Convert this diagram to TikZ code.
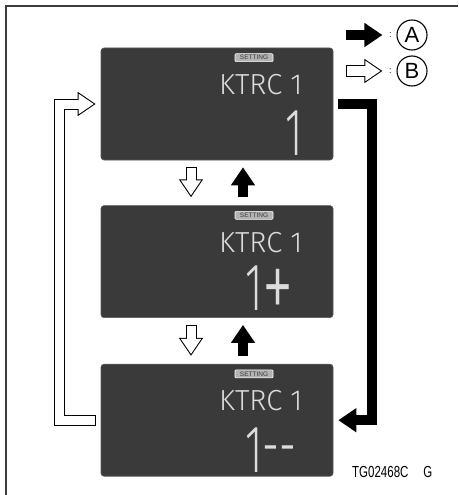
\documentclass[tikz,border=0pt]{standalone}
\usepackage{fontspec}
\setmainfont{Liberation Sans}
\newfontfamily\lcdfont{Fira Sans Light}
\usetikzlibrary{arrows.meta}
\usetikzlibrary{positioning}
\definecolor{lcdpanel}{HTML}{3A3A3A}
\definecolor{lcdseg}{HTML}{DCDCDC}
\definecolor{framegrey}{HTML}{3C3C3C}

\begin{document}
\begin{tikzpicture}[
  x=1pt, y=-1pt,
  panel/.style={rectangle, draw=lcdpanel!85!white, fill=lcdpanel, line width=0.6pt,
    minimum width=232pt, minimum height=112pt, rounded corners=3pt, inner sep=0pt},
  badge/.style={rectangle, draw=white, fill=lcdseg!75!lcdpanel, text=lcdpanel,
    line width=0.6pt, minimum width=38pt, minimum height=8pt, inner sep=0pt,
    rounded corners=1pt, font=\fontsize{6.5}{6.5}\selectfont},
  modetext/.style={text=lcdseg, font=\lcdfont\fontsize{29}{29}\selectfont,
    anchor=base west, inner sep=0pt},
  digits/.style={text=lcdseg, font=\lcdfont\fontsize{42}{42}\selectfont,
    yscale=1.6, anchor=base west, inner sep=0pt},
  key/.style={circle, draw, line width=1.1pt, minimum size=30pt, inner sep=0pt,
    font=\fontsize{22}{22}\selectfont},
  solid/.style={line width=10pt, line join=miter, draw=black,
    -{Triangle[length=18pt,width=23pt]}},
  hollow/.style={line width=11pt, line join=miter, draw=black,
    -{Triangle[length=18pt,width=23pt]}},
  hollowfill/.style={line width=9pt, line join=miter, draw=white,
    shorten <=1pt, shorten >=1.9pt, -{Triangle[length=15.1pt,width=19.3pt]}},
  frame/.style={draw=framegrey, line width=1.3pt},
]
\useasboundingbox (0,0) rectangle (458,495);

% outer frame
\draw[frame] (6,495) -- (6,6) -- (458,6);

% === LCD panels ===
\node[panel] (top) at (217,104) {};
\node[panel, below=45pt of top] (mid) {};
\node[panel, below=46pt of mid] (bot) {};

\node[badge] (set1) at ([xshift=37pt,yshift=-10pt]top.north) {SETTING};
\node[modetext] (mode1) at ([xshift=2pt,yshift=-47pt]top.north) {KTRC 1};
\node[digits] (val1) at ([xshift=68pt,yshift=5pt]top.south) {1};

\node[badge] (set2) at ([xshift=37pt,yshift=-10pt]mid.north) {SETTING};
\node[modetext] (mode2) at ([xshift=2pt,yshift=-47pt]mid.north) {KTRC 1};
\node[digits] (val2) at ([xshift=28pt,yshift=7pt]mid.south)
  {1\smash{\raisebox{-6pt}{\scalebox{1.5}{+}}}};

\node[badge] (set3) at ([xshift=37pt,yshift=-10pt]bot.north) {SETTING};
\node[modetext] (mode3) at ([xshift=2pt,yshift=-47pt]bot.north) {KTRC 1};
\node[digits] (val3) at ([xshift=28pt,yshift=4.5pt]bot.south)
  {1\smash{\raisebox{2pt}{-{}-}}};

% === Legend ===
\node[key] (keyA) at (412,35) {A};
\node[key] (keyB) at (412,71) {B};
\node[inner sep=0pt, font=\small] (colA) at ([xshift=-6pt]keyA.west) {:};
\node[inner sep=0pt, font=\small] (colB) at ([xshift=-6pt]keyB.west) {:};
\draw[solid] ([xshift=-50pt]keyA.west) -- ([xshift=-14pt]keyA.west);
\draw[hollow] ([xshift=-50pt]keyB.west) -- ([xshift=-14pt]keyB.west);
\draw[hollowfill] ([xshift=-50pt]keyB.west) -- ([xshift=-14pt]keyB.west);

% === Arrows between panels ===
\draw[hollow] ([xshift=-26pt,yshift=-7pt]top.south) -- ([xshift=-26pt,yshift=8pt]mid.north);
\draw[hollowfill] ([xshift=-26pt,yshift=-7pt]top.south) -- ([xshift=-26pt,yshift=8pt]mid.north);
\draw[solid] ([xshift=26pt,yshift=8pt]mid.north) -- ([xshift=26pt,yshift=-7pt]top.south);

\draw[hollow] ([xshift=-26pt,yshift=-7pt]mid.south) -- ([xshift=-26pt,yshift=8pt]bot.north);
\draw[hollowfill] ([xshift=-26pt,yshift=-7pt]mid.south) -- ([xshift=-26pt,yshift=8pt]bot.north);
\draw[solid] ([xshift=26pt,yshift=8pt]bot.north) -- ([xshift=26pt,yshift=-7pt]mid.south);

% Loops round the side
\draw[solid] ([xshift=5pt]top.east) -- ++(34,0) |- ([xshift=5pt]bot.east);
\draw[hollow] ([xshift=-5pt]bot.west) -- ++(-36,0) |- ([xshift=-5pt]top.west);
\draw[hollowfill] ([xshift=-5pt]bot.west) -- ++(-36,0) |- ([xshift=-5pt]top.west);

% figure code
\node[inner sep=0pt, anchor=base west, xscale=0.72, font=\fontsize{16}{16}\selectfont]
  (code) at (352,477) {TG02468C\hspace{1.3em}G};

\end{tikzpicture}
\end{document}
